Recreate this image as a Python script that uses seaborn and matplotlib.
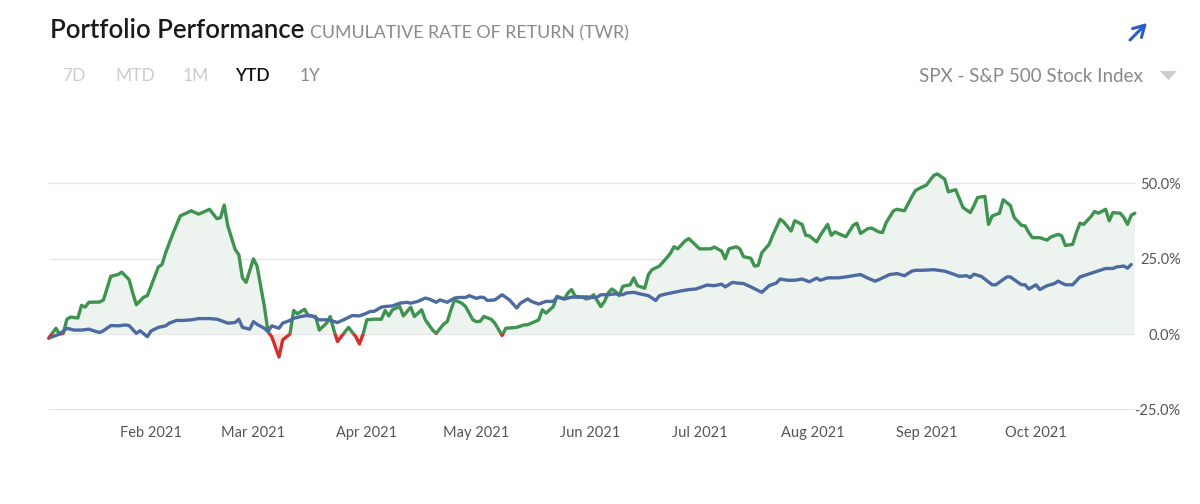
import numpy as np
import pandas as pd
import matplotlib
matplotlib.use("Agg")
import matplotlib.pyplot as plt
import matplotlib.dates as mdates
from matplotlib.patches import Rectangle, Polygon
import seaborn as sns

# portfolio (green) cumulative return, % -- dates are 2021 MM-DD
portfolio_days = [
    "01-04", "01-06", "01-07", "01-08", "01-09", "01-10", "01-12", "01-13", "01-14", "01-15",
    "01-18", "01-19", "01-21", "01-23", "01-24", "01-26", "01-27", "01-28", "01-30", "01-31",
    "02-01", "02-03", "02-04", "02-05", "02-07", "02-09", "02-12", "02-14", "02-15", "02-17",
    "02-19", "02-20", "02-21", "02-22", "02-24", "02-25", "02-26", "02-27", "03-01", "03-02",
    "03-04", "03-05", "03-06", "03-08", "03-09", "03-11", "03-12", "03-13", "03-15", "03-16",
    "03-18", "03-19", "03-21", "03-22", "03-23", "03-24", "03-25", "03-27", "03-29", "03-30",
    "03-31", "04-01", "04-03", "04-05", "04-06", "04-07", "04-08", "04-10", "04-11", "04-13",
    "04-14", "04-16", "04-17", "04-19", "04-20", "04-22", "04-23", "04-24", "04-25", "04-27",
    "04-28", "04-30", "05-01", "05-02", "05-03", "05-05", "05-06", "05-08", "05-09", "05-11",
    "05-12", "05-14", "05-15", "05-17", "05-18", "05-19", "05-20", "05-22", "05-23", "05-25",
    "05-26", "05-27", "05-28", "05-30", "05-31", "06-01", "06-02", "06-04", "06-05", "06-06",
    "06-07", "06-08", "06-09", "06-10", "06-12", "06-13", "06-14", "06-16", "06-17", "06-18",
    "06-20", "06-22", "06-23", "06-24", "06-25", "06-27", "06-28", "06-29", "07-01", "07-03",
    "07-04", "07-05", "07-07", "07-08", "07-09", "07-11", "07-12", "07-13", "07-15", "07-16",
    "07-17", "07-18", "07-20", "07-21", "07-23", "07-24", "07-26", "07-27", "07-29", "07-30",
    "07-31", "08-02", "08-03", "08-05", "08-06", "08-07", "08-09", "08-10", "08-12", "08-13",
    "08-14", "08-16", "08-17", "08-19", "08-20", "08-21", "08-23", "08-24", "08-26", "08-28",
    "08-29", "08-30", "09-01", "09-03", "09-04", "09-06", "09-07", "09-09", "09-10", "09-11",
    "09-13", "09-14", "09-15", "09-17", "09-18", "09-19", "09-21", "09-22", "09-24", "09-25",
    "09-27", "09-28", "09-29", "09-30", "10-02", "10-04", "10-05", "10-07", "10-08", "10-09",
    "10-11", "10-12", "10-13", "10-14", "10-16", "10-17", "10-18", "10-20", "10-21", "10-22",
    "10-24", "10-25", "10-26", "10-27", "10-28",
]
portfolio_values = [
    -1.3, 2.0, 0.1, 0.3, 5.0, 5.7, 5.4, 9.6, 9.0, 10.6,
    10.7, 11.4, 19.2, 19.8, 20.6, 18.1, 13.7, 9.8, 12.3, 12.8,
    15.9, 22.3, 23.1, 27.0, 33.4, 39.2, 40.9, 39.8, 40.3, 41.4,
    38.3, 38.6, 42.8, 35.9, 28.1, 26.4, 18.7, 17.2, 25.0, 22.6,
    9.2, 0.9, -0.8, -7.5, -1.9, 0.1, 7.9, 6.8, 8.3, 6.1,
    5.9, 1.4, 3.7, 5.9, 1.4, -2.4, -0.8, 2.3, -0.8, -3.2,
    0.1, 4.8, 5.0, 5.0, 7.9, 6.1, 8.1, 9.2, 6.1, 9.0,
    5.9, 8.1, 4.8, 1.4, 0.3, 3.4, 4.2, 8.1, 11.4, 10.3,
    9.2, 4.8, 4.2, 4.3, 5.9, 5.0, 3.7, -0.4, 2.0, 2.2,
    2.3, 3.1, 3.2, 4.2, 4.8, 8.1, 7.0, 9.2, 12.6, 11.7,
    13.7, 14.8, 12.6, 12.3, 11.7, 12.0, 13.1, 9.2, 10.9, 13.7,
    15.0, 14.2, 12.8, 15.9, 16.4, 18.7, 16.1, 15.3, 19.8, 21.4,
    22.6, 25.3, 26.8, 29.0, 28.3, 30.9, 31.7, 30.6, 28.3, 28.3,
    28.3, 28.9, 27.6, 25.0, 28.3, 29.0, 28.3, 25.7, 25.2, 22.6,
    22.8, 27.0, 29.8, 32.8, 38.1, 37.2, 34.2, 37.6, 36.4, 32.8,
    32.6, 30.6, 32.8, 36.4, 32.8, 33.9, 32.8, 32.3, 36.1, 36.8,
    33.4, 35.0, 35.2, 33.9, 33.7, 37.0, 40.9, 41.4, 40.9, 45.5,
    47.6, 48.3, 49.4, 52.6, 53.1, 51.4, 47.2, 47.9, 45.0, 42.0,
    40.3, 42.6, 45.3, 45.7, 36.4, 39.2, 40.1, 44.6, 42.6, 38.7,
    36.1, 35.9, 33.7, 32.0, 32.0, 31.2, 32.2, 33.1, 32.6, 29.4,
    29.8, 33.7, 36.8, 36.4, 39.0, 40.7, 40.1, 41.4, 37.6, 40.3,
    40.1, 38.7, 36.4, 39.4, 40.1,
]

# SPX benchmark (blue) cumulative return, %
spx_days = [
    "01-04", "01-07", "01-09", "01-11", "01-13", "01-15", "01-17", "01-18", "01-19", "01-21",
    "01-23", "01-25", "01-26", "01-28", "01-29", "01-31", "02-01", "02-03", "02-05", "02-06",
    "02-08", "02-10", "02-12", "02-14", "02-17", "02-19", "02-20", "02-22", "02-24", "02-25",
    "02-26", "02-28", "03-01", "03-02", "03-04", "03-05", "03-06", "03-08", "03-09", "03-11",
    "03-12", "03-14", "03-16", "03-17", "03-19", "03-21", "03-22", "03-24", "03-26", "03-28",
    "03-30", "04-01", "04-02", "04-03", "04-05", "04-06", "04-08", "04-10", "04-12", "04-13",
    "04-15", "04-17", "04-18", "04-20", "04-21", "04-23", "04-25", "04-26", "04-28", "04-29",
    "05-01", "05-02", "05-03", "05-04", "05-06", "05-08", "05-10", "05-12", "05-13", "05-15",
    "05-16", "05-18", "05-20", "05-22", "05-23", "05-25", "05-27", "05-29", "05-31", "06-02",
    "06-03", "06-04", "06-06", "06-08", "06-10", "06-11", "06-13", "06-15", "06-17", "06-19",
    "06-20", "06-22", "06-24", "06-26", "06-28", "06-30", "07-03", "07-05", "07-07", "07-08",
    "07-10", "07-11", "07-13", "07-15", "07-18", "07-20", "07-22", "07-23", "07-25", "07-27",
    "07-29", "07-31", "08-02", "08-03", "08-05", "08-08", "08-10", "08-12", "08-14", "08-16",
    "08-18", "08-19", "08-22", "08-24", "08-26", "08-28", "08-29", "08-31", "09-03", "09-06",
    "09-08", "09-10", "09-12", "09-13", "09-14", "09-16", "09-19", "09-20", "09-23", "09-24",
    "09-25", "09-27", "09-28", "09-29", "10-01", "10-02", "10-04", "10-06", "10-07", "10-09",
    "10-11", "10-13", "10-15", "10-17", "10-19", "10-20", "10-22", "10-23", "10-25", "10-26",
    "10-27",
]
spx_values = [
    -1.3, 0.1, 2.0, 1.4, 1.4, 1.7, 0.9, 0.6, 1.2, 2.9,
    2.8, 3.1, 2.9, 0.3, 1.2, -0.8, 1.1, 2.3, 2.8, 3.7,
    4.6, 4.6, 4.8, 5.2, 5.2, 5.0, 4.6, 3.7, 3.9, 5.0,
    2.3, 1.7, 4.2, 3.3, 2.0, 0.9, 2.8, 2.0, 3.7, 4.6,
    5.3, 5.9, 6.3, 6.1, 4.8, 4.8, 4.6, 3.9, 5.0, 6.2,
    6.1, 7.0, 7.6, 7.6, 9.0, 9.2, 9.4, 10.3, 10.6, 10.3,
    10.9, 12.0, 11.7, 10.6, 11.4, 10.6, 12.0, 12.2, 12.2, 12.8,
    11.9, 12.3, 12.2, 11.2, 11.4, 13.1, 11.4, 8.7, 10.3, 11.7,
    10.9, 10.0, 10.9, 10.9, 12.3, 11.7, 12.3, 12.3, 12.4, 12.2,
    12.3, 13.1, 13.1, 13.4, 13.1, 13.7, 13.9, 13.3, 12.8, 11.2,
    12.8, 13.4, 13.9, 14.4, 14.8, 15.0, 16.3, 16.1, 16.6, 15.7,
    17.2, 17.0, 16.8, 15.7, 13.9, 16.1, 17.0, 18.3, 17.9, 17.9,
    18.3, 17.4, 18.6, 17.9, 18.7, 18.7, 19.0, 19.4, 19.8, 18.6,
    17.6, 18.1, 19.8, 20.1, 19.4, 20.9, 21.2, 21.2, 21.4, 20.9,
    20.1, 19.2, 19.4, 18.8, 19.9, 19.2, 16.4, 16.4, 19.0, 19.0,
    18.1, 16.4, 16.4, 15.0, 16.4, 14.8, 16.1, 16.8, 17.6, 16.4,
    16.4, 19.0, 19.8, 20.6, 21.4, 21.8, 21.8, 22.3, 22.6, 21.9,
    23.1,
]

y_ticks = [-25, 0, 25, 50]
y_tick_labels = ["-25.0%", "0.0%", "25.0%", "50.0%"]
range_buttons = ["7D", "MTD", "1M", "YTD", "1Y"]

GREEN = "#3f9350"
RED = "#d2302c"
BLUE = "#4d6aa1"
FILL_POS = "#edf3ee"
FILL_NEG = "#f8e4e3"

portfolio = pd.DataFrame({
    "date": pd.to_datetime(["2021-" + d for d in portfolio_days]),
    "value": portfolio_values,
})
spx = pd.DataFrame({
    "date": pd.to_datetime(["2021-" + d for d in spx_days]),
    "value": spx_values,
})

sns.set_style("white")
plt.rcParams["font.family"] = ["Lato", "DejaVu Sans"]

fig = plt.figure(figsize=(12, 5.04), dpi=100)
ax = fig.add_axes([0.0405, 0.1869, 0.9052, 0.5093])

x_lo = portfolio["date"].min()
x_hi = portfolio["date"].max()
ax.set_xlim(x_lo, x_hi)
ax.set_ylim(-25, 60)

# grid
for t in y_ticks[1:]:
    ax.axhline(t, color="#e6e6e6", lw=1, zorder=0)
ax.axhline(-25, color="#d5dae6", lw=1.2, zorder=0)

# area between portfolio line and zero
vals = portfolio["value"].to_numpy()
ax.fill_between(portfolio["date"], vals, 0, where=vals >= 0, interpolate=True,
                color=FILL_POS, lw=0, zorder=1)
ax.fill_between(portfolio["date"], vals, 0, where=vals <= 0, interpolate=True,
                color=FILL_NEG, lw=0, zorder=1)

# portfolio line: green above zero, red below (same data, clipped twice)
x0 = mdates.date2num(x_lo) - 5
x1 = mdates.date2num(x_hi) + 5
for color, y0, h in [(GREEN, 0, 200), (RED, -200, 200)]:
    sns.lineplot(data=portfolio, x="date", y="value", ax=ax, color=color,
                 lw=2.4, zorder=3)
    line = ax.lines[-1]
    line.set_solid_joinstyle("round")
    line.set_clip_path(Rectangle((x0, y0), x1 - x0, h, transform=ax.transData))

sns.lineplot(data=spx, x="date", y="value", ax=ax, color=BLUE, lw=2.4, zorder=4)
ax.lines[-1].set_solid_joinstyle("round")

for s in ax.spines.values():
    s.set_visible(False)
ax.set_xlabel("")
ax.set_ylabel("")

ax.xaxis.set_major_locator(mdates.MonthLocator(bymonthday=1))
ax.xaxis.set_major_formatter(mdates.DateFormatter("%b %Y"))
ax.tick_params(axis="x", length=0, pad=12, labelsize=10.5, labelcolor="#555555")

ax.set_yticks(y_ticks)
ax.set_yticklabels(y_tick_labels)
ax.yaxis.tick_right()
ax.tick_params(axis="y", length=0, pad=33, labelsize=10.5, labelcolor="#555555")
for lbl in ax.get_yticklabels():
    lbl.set_horizontalalignment("right")

# header
def fx(px):
    return px / 1200


def fy(py):
    return 1 - py / 504


fig.text(fx(50), fy(31), "Portfolio Performance", fontsize=18.5, fontweight="semibold",
         color="#1a1a1a", va="center", ha="left")
fig.text(fx(310), fy(33), "CUMULATIVE RATE OF RETURN (TWR)", fontsize=12.8,
         color="#8a8a8a", va="center", ha="left")

button_x = [62, 115, 183, 235, 300]
button_colors = ["#cccccc", "#cccccc", "#cccccc", "#111111", "#888888"]
for label, bx, bc in zip(range_buttons, button_x, button_colors):
    fig.text(fx(bx), fy(76), label, fontsize=12.5, color=bc, va="center", ha="left",
             fontweight="semibold" if label == "YTD" else "normal")

fig.text(fx(1143), fy(76), "SPX - S&P 500 Stock Index", fontsize=13.5, color="#888888",
         va="center", ha="right")

# dropdown caret
fig.patches.append(Polygon([(fx(1160), fy(71)), (fx(1177), fy(71)), (fx(1168.5), fy(80))],
                           closed=True, facecolor="#cccccc", edgecolor="none",
                           transform=fig.transFigure))

# expand icon
ax.annotate("", xy=(fx(1149), fy(21)), xytext=(fx(1128), fy(42)),
            xycoords="figure fraction", textcoords="figure fraction",
            arrowprops=dict(arrowstyle="->,head_length=0.8,head_width=0.45",
                            color="#2b5fc7", lw=2.2))

fig.savefig("out.png", dpi=100)
plt.close(fig)
